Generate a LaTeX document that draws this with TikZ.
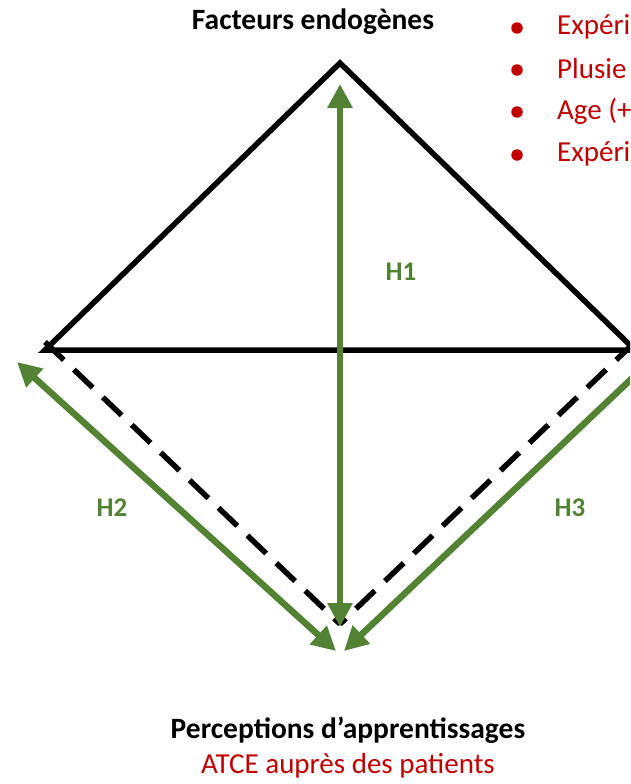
\documentclass[tikz,border=0pt]{standalone}
\usepackage{fontspec}
\setmainfont{Carlito}
\usetikzlibrary{arrows.meta, positioning}
\definecolor{hypgreen}{HTML}{548235}
\definecolor{factred}{HTML}{C00000}

\begin{document}
\begin{tikzpicture}[
    x=1pt, y=-1pt,
    edge/.style={line width=5.5pt, black},
    dashedge/.style={line width=5.5pt, black, dash pattern=on 26pt off 14pt},
    hyp/.style={{Triangle[length=24pt,width=24pt]}-{Triangle[length=24pt,width=24pt]}, line width=6.5pt, color=hypgreen},
    title/.style={font=\bfseries\fontsize{29.5}{34}\selectfont, text=black},
    hlabel/.style={font=\bfseries\fontsize{27}{32}\selectfont, text=hypgreen},
    item/.style={font=\fontsize{29}{34}\selectfont, text=factred, anchor=west, inner sep=0pt},
    dot/.style={circle, fill=factred, minimum size=11.5pt, inner sep=0pt}
]
\useasboundingbox (0,0) rectangle (630,784);
\clip (0,0) rectangle (630,784);

% triangle corners
\coordinate (top) at (340,63);
\coordinate (left) at (45,350);
\coordinate (right) at (635,350);
\coordinate (bottom) at (340,624);

% arrow ends
\coordinate (h1top) at (340,84);
\coordinate (h1bot) at (340,627);
\coordinate (h2left) at (17,362);
\coordinate (h2bot) at (336,651);
\coordinate (h3right) at (664,348);
\coordinate (h3bot) at (344,651);

\draw[edge, line join=miter] (left) -- (top) -- (right) -- cycle;
\draw[dashedge] ([yshift=8pt]left) -- (bottom);
\draw[dashedge] ([yshift=8pt]right) -- (bottom);

\draw[hyp] (h1top) -- (h1bot);
\draw[hyp] (h2left) -- (h2bot);
\draw[hyp] (h3right) -- (h3bot);

\node[hlabel] (h1) at (401,272) {H1};
\node[hlabel] (h2) at (112,508) {H2};
\node[hlabel] (h3) at (570,508) {H3};

\node[title] (endo) at (313,22) {Facteurs endogènes};

\node[dot] (d1) at (517,28) {};
\node[dot] (d2) at (517,70) {};
\node[dot] (d3) at (517,112) {};
\node[dot] (d4) at (517,155) {};
\node[item] (i1) at (557,27) {Expéri};
\node[item] (i2) at (557,69) {Plusie};
\node[item] (i3) at (557,111) {Age (+};
\node[item] (i4) at (557,154) {Expéri};

\node[title] (percep) at (348,730) {Perceptions d’apprentissages};
\node[font=\fontsize{29}{34}\selectfont, text=factred] (atce) [below=3pt of percep] {ATCE auprès des patients};
\end{tikzpicture}
\end{document}
